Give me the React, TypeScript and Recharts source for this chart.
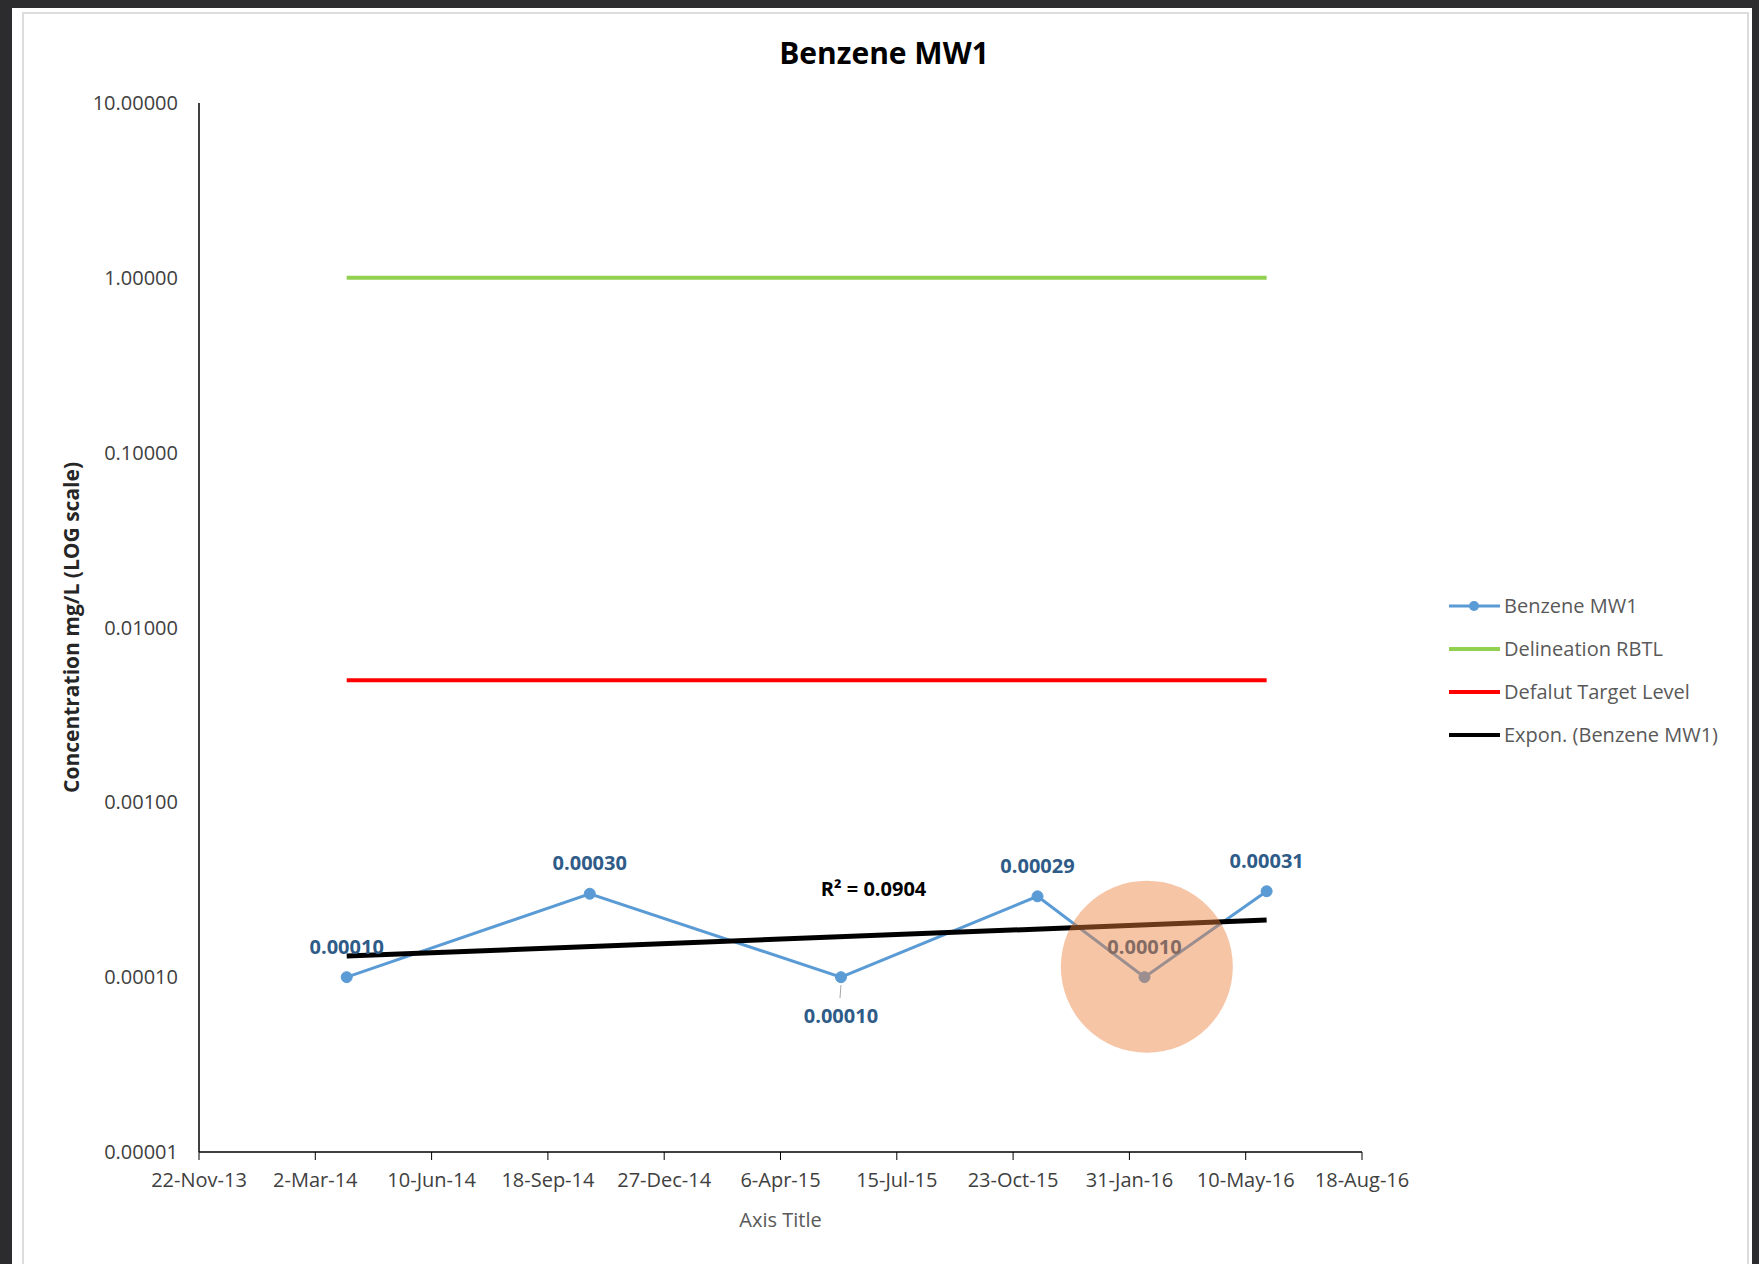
import React from 'react';
import { LineChart, Line, XAxis, YAxis, LabelList, ReferenceDot, Label } from 'recharts';

// sample dates and measured values
const sampleDates = ['2014-03-29', '2014-10-24', '2015-05-28', '2015-11-13', '2016-02-13', '2016-05-28'];
const benzeneMW1 = [0.0001, 0.0003, 0.0001, 0.00029, 0.0001, 0.00031];
const delineationRBTL = [1, 1, 1, 1, 1, 1];
const defaultTargetLevel = [0.005, 0.005, 0.005, 0.005, 0.005, 0.005];
// exponential trendline, read at its two ends
const exponTrend = [0.000132, null, null, null, null, 0.000212];

const xTickDates = [
  '2013-11-22', '2014-03-02', '2014-06-10', '2014-09-18', '2014-12-27', '2015-04-06',
  '2015-07-15', '2015-10-23', '2016-01-31', '2016-05-10', '2016-08-18',
];
const yTicks = [0.00001, 0.0001, 0.001, 0.01, 0.1, 1, 10];
const seriesNames = ['Benzene MW1', 'Delineation RBTL', 'Defalut Target Level', 'Expon. (Benzene MW1)'];
const rSquaredText = 'R² = 0.0904';

const FONT = "'Open Sans', sans-serif";
const MONTHS = ['Jan', 'Feb', 'Mar', 'Apr', 'May', 'Jun', 'Jul', 'Aug', 'Sep', 'Oct', 'Nov', 'Dec'];
const BLUE = '#5B9BD5';
const GREEN = '#92D050';
const RED = '#FF0000';
const LABEL_BLUE = '#2F5B88';

const toMs = (s: string) => Date.parse(s + 'T00:00:00Z');
const fmtDate = (ms: number) => {
  const d = new Date(ms);
  return `${d.getUTCDate()}-${MONTHS[d.getUTCMonth()]}-${String(d.getUTCFullYear()).slice(2)}`;
};

const rows = sampleDates.map((d, i) => ({
  date: toMs(d),
  benzene: benzeneMW1[i],
  rbtl: delineationRBTL[i],
  target: defaultTargetLevel[i],
  trend: exponTrend[i],
}));
const xTicks = xTickDates.map(toMs);

const ValueLabel = (props: any) => {
  const { x, y, value, index } = props;
  const below = index === 2;
  const cy = below ? y + 38 : y - 31;
  return (
    <g>
      {below && <line x1={x} y1={y + 8} x2={x - 1} y2={y + 21} stroke="#a6a6a6" strokeWidth={1} />}
      <text x={x} y={cy} textAnchor="middle" dominantBaseline="central" fill={LABEL_BLUE}
        fontFamily={FONT} fontSize={20} fontWeight={700}>
        {Number(value).toFixed(5)}
      </text>
    </g>
  );
};

const legendItems = [
  { name: seriesNames[0], color: BLUE, width: 3, dot: true },
  { name: seriesNames[1], color: GREEN, width: 4, dot: false },
  { name: seriesNames[2], color: RED, width: 4, dot: false },
  { name: seriesNames[3], color: '#000', width: 4, dot: false },
];

export default function App() {
  return (
    <div style={{ position: 'absolute', left: 0, top: 0, width: 1759, height: 1264, background: '#2c2c2e', overflow: 'hidden' }}>
      <div style={{ position: 'absolute', left: 12, top: 8, width: 1740, height: 1270, background: '#fff' }} />
      <div style={{ position: 'absolute', left: 22, top: 12, width: 1723, height: 1270, border: '2px solid #dcdcdc', boxSizing: 'content-box' }} />
      <div style={{
        position: 'absolute', left: 0, top: 38, width: 1768, textAlign: 'center',
        fontFamily: FONT, fontWeight: 700, fontSize: 30, lineHeight: '29px', color: '#000',
      }}>
        Benzene MW1
      </div>

      <div style={{ position: 'absolute', left: 0, top: 0 }}>
        <LineChart width={1759} height={1264} data={rows} margin={{ top: 103, right: 397, bottom: 52, left: 39 }}>
          <XAxis
            type="number"
            dataKey="date"
            domain={[xTicks[0], xTicks[xTicks.length - 1]]}
            ticks={xTicks}
            interval={0}
            tickFormatter={fmtDate}
            height={60}
            tickSize={8}
            tickMargin={13}
            axisLine={{ stroke: '#000', strokeWidth: 1.5 }}
            tickLine={{ stroke: '#000', strokeWidth: 1 }}
            tick={{ fill: '#404040', fontSize: 20, fontFamily: FONT }}
          >
            <Label
              content={(p: any) => {
                const vb = p.viewBox;
                return (
                  <text x={vb.x + vb.width / 2} y={1219} textAnchor="middle" dominantBaseline="central"
                    fill="#595959" fontFamily={FONT} fontSize={20}>
                    Axis Title
                  </text>
                );
              }}
            />
          </XAxis>
          <YAxis
            scale="log"
            domain={[0.00001, 10]}
            ticks={yTicks}
            interval={0}
            allowDataOverflow
            tickFormatter={(v: number) => v.toFixed(5)}
            width={160}
            tickSize={0}
            tickMargin={21}
            axisLine={{ stroke: '#000', strokeWidth: 1.5 }}
            tick={{ fill: '#404040', fontSize: 20, fontFamily: FONT }}
          >
            <Label
              content={(p: any) => {
                const vb = p.viewBox;
                const cx = vb.x + 32;
                const cy = vb.y + vb.height / 2;
                return (
                  <text x={cx} y={cy} transform={`rotate(-90, ${cx}, ${cy})`} textAnchor="middle"
                    dominantBaseline="central" fill="#262626" fontFamily={FONT} fontSize={21} fontWeight={700}>
                    Concentration mg/L (LOG scale)
                  </text>
                );
              }}
            />
          </YAxis>

          <Line dataKey="benzene" stroke={BLUE} strokeWidth={3} isAnimationActive={false}
            dot={{ r: 5.5, fill: BLUE, stroke: BLUE, strokeWidth: 1 }} activeDot={false}>
            <LabelList dataKey="benzene" content={ValueLabel} />
          </Line>
          <Line dataKey="rbtl" stroke={GREEN} strokeWidth={4} dot={false} activeDot={false} isAnimationActive={false} />
          <Line dataKey="target" stroke={RED} strokeWidth={4} dot={false} activeDot={false} isAnimationActive={false} />
          <Line dataKey="trend" stroke="#000" strokeWidth={5} dot={false} activeDot={false} connectNulls isAnimationActive={false} />

          <ReferenceDot
            x={toMs('2015-06-25')}
            y={0.000321}
            r={1}
            shape={(p: any) => (
              <text x={p.cx} y={p.cy} textAnchor="middle" dominantBaseline="central" fill="#000"
                fontFamily={FONT} fontSize={20} fontWeight={700}>
                {rSquaredText}
              </text>
            )}
          />
          <ReferenceDot
            x={toMs('2016-02-15')}
            y={0.0001148}
            r={86}
            fill="#EB7F39"
            fillOpacity={0.45}
            stroke="none"
            {...({ zIndex: 5000 } as any)}
          />
        </LineChart>
      </div>

      <div style={{ position: 'absolute', left: 1449, top: 584, fontFamily: FONT, fontSize: 20, color: '#595959' }}>
        {legendItems.map((it) => (
          <div key={it.name} style={{ display: 'flex', alignItems: 'center', height: 43 }}>
            <svg width={55} height={14} style={{ display: 'block' }}>
              <line x1={0} y1={7} x2={51} y2={7} stroke={it.color} strokeWidth={it.width} />
              {it.dot && <circle cx={25} cy={7} r={5} fill={it.color} />}
            </svg>
            <span style={{ whiteSpace: 'nowrap' }}>{it.name}</span>
          </div>
        ))}
      </div>
    </div>
  );
}
